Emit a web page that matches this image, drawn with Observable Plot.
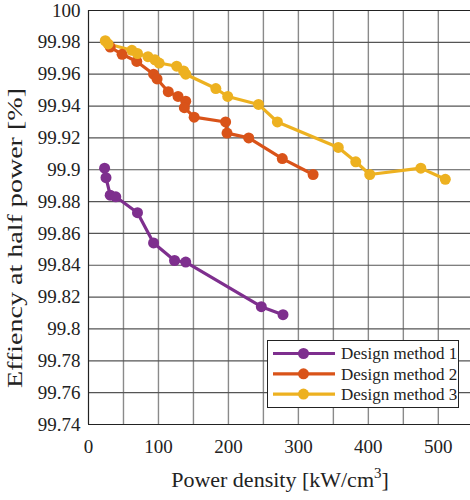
<!DOCTYPE html>
<html>
<head>
<meta charset="utf-8">
<script src="https://cdn.jsdelivr.net/npm/d3@7"></script>
<script src="https://cdn.jsdelivr.net/npm/@observablehq/plot@0.6"></script>
<style>
  html, body { margin: 0; padding: 0; background: #fff; }
  #chart svg { display: block; }
  #chart svg text { font-family: "Liberation Serif", "DejaVu Serif", serif; }
</style>
</head>
<body>
<div id="chart"></div>
<script>
// ---- data ----
const seriesNames = ["Design method 1", "Design method 2", "Design method 3"];
const seriesColors = ["#7E2F8E", "#D95319", "#EDB120"];

const m1x = [23, 25, 31, 39, 70, 93, 123, 139, 247, 278];
const m1y = [99.901, 99.895, 99.884, 99.883, 99.873, 99.854, 99.843, 99.842, 99.814, 99.809];

const m2x = [31, 48, 69, 93, 98, 114, 128, 139, 137, 151, 196, 198, 229, 277, 321];
const m2y = [99.977, 99.9725, 99.968, 99.960, 99.957, 99.949, 99.946, 99.943, 99.939, 99.933, 99.930, 99.923, 99.920, 99.907, 99.897];

const m3x = [24, 28, 62, 70, 85, 95, 101, 126, 136, 139, 182, 199, 243, 270, 357, 382, 402, 475, 510];
const m3y = [99.981, 99.979, 99.975, 99.973, 99.971, 99.969, 99.967, 99.965, 99.962, 99.960, 99.951, 99.946, 99.941, 99.930, 99.914, 99.905, 99.897, 99.901, 99.894];

const xTicks = [0, 100, 200, 300, 400, 500];
const xGrid = [50, 100, 150, 200, 250, 300, 350, 400, 450, 500];
const yTicks = [99.74, 99.76, 99.78, 99.8, 99.82, 99.84, 99.86, 99.88, 99.9, 99.92, 99.94, 99.96, 99.98, 100];
const yGrid = [99.76, 99.78, 99.8, 99.82, 99.84, 99.86, 99.88, 99.9, 99.92, 99.94, 99.96, 99.98];

const xLabel = "Power density [kW/cm";
const xLabelSup = "3";
const xLabelEnd = "]";
const yLabel = "Effiency at half power [%]";

// ---- build table ----
const rows = [];
[[m1x, m1y], [m2x, m2y], [m3x, m3y]].forEach(([xs, ys], i) => {
  xs.forEach((x, j) => rows.push({series: seriesNames[i], x, y: ys[j], order: j}));
});

const font = "'Liberation Serif', 'DejaVu Serif', serif";

const chart = Plot.plot({
  width: 470,
  height: 500,
  marginLeft: 88,
  marginRight: 0,
  marginTop: 10,
  marginBottom: 76,
  style: {fontFamily: font, fontSize: "19px", color: "#222", background: "#fff"},
  x: {domain: [0, 546]},
  y: {domain: [99.74, 100]},
  color: {domain: seriesNames, range: seriesColors},
  marks: [
    Plot.ruleX(xGrid, {stroke: "#8a8a8a", strokeWidth: 1.4}),
    Plot.ruleY(yGrid, {stroke: "#555", strokeWidth: 1.2}),
    Plot.ruleY([99.74, 100], {stroke: "#222", strokeWidth: 1.2}),
    Plot.ruleX([0], {stroke: "#222", strokeWidth: 1.2}),
    Plot.axisX({ticks: xTicks, tickSize: 0, tickPadding: 15, fontSize: 19, label: null, tickFormat: d => String(d)}),
    Plot.axisY({ticks: yTicks, tickSize: 0, tickPadding: 8, fontSize: 19, label: null, tickFormat: d => String(+d.toFixed(2))}),
    Plot.line(rows, {x: "x", y: "y", z: "series", stroke: "series", strokeWidth: 3.2}),
    Plot.dot(rows, {x: "x", y: "y", fill: "series", r: 5.5})
  ]
});

document.getElementById("chart").appendChild(chart);

// ---- axis titles & legend ----
const svg = d3.select(chart);

// x label with superscript
const xt = svg.append("text")
  .attr("x", 280).attr("y", 487)
  .attr("text-anchor", "middle")
  .attr("font-size", 22).attr("fill", "#222");
xt.append("tspan").text(xLabel);
xt.append("tspan").attr("dy", -9).attr("font-size", 15).text(xLabelSup);
xt.append("tspan").attr("dy", 9).text(xLabelEnd);

// y label
svg.append("text")
  .attr("transform", "translate(22,238) rotate(-90)")
  .attr("text-anchor", "middle")
  .attr("font-size", 21).attr("fill", "#222")
  .attr("textLength", 300).attr("lengthAdjust", "spacingAndGlyphs")
  .text(yLabel);

// legend
const lg = svg.append("g");
lg.append("rect")
  .attr("x", 267.5).attr("y", 340.5).attr("width", 191).attr("height", 67)
  .attr("fill", "#fff").attr("stroke", "#222").attr("stroke-width", 1);
seriesNames.forEach((name, i) => {
  const cy = 353.5 + i * 20.3;
  lg.append("line").attr("x1", 273).attr("x2", 335).attr("y1", cy).attr("y2", cy)
    .attr("stroke", seriesColors[i]).attr("stroke-width", 3.2);
  lg.append("circle").attr("cx", 303.5).attr("cy", cy).attr("r", 5.5).attr("fill", seriesColors[i]);
  lg.append("text").attr("x", 341).attr("y", cy).attr("dy", "0.35em")
    .attr("text-anchor", "start")
    .attr("font-size", 17).attr("fill", "#222")
    .text(name);
});
</script>
</body>
</html>
